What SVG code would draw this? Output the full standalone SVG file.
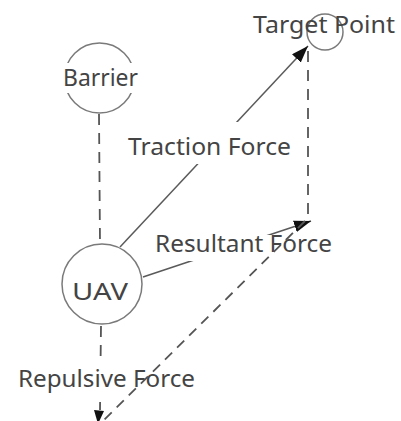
<svg xmlns="http://www.w3.org/2000/svg" width="401" height="421" viewBox="0 0 401 421">
  <style>
    .node { fill: none; stroke: #7a7a7a; stroke-width: 1.5; }
    .label { font-family: "Noto Sans", "Open Sans", "Liberation Sans", sans-serif; font-size: 24px; fill: #444444; }
    .bg { fill: #ffffff; }
    .solid { stroke: #5a5a5a; stroke-width: 1.5; fill: none; }
    .dash { stroke: #555555; stroke-width: 1.8; fill: none; stroke-dasharray: 11 8; }
    .dash2 { stroke: #555555; stroke-width: 1.8; fill: none; stroke-dasharray: 10 7; }
  </style>
  <defs>
    <marker id="arrow" markerUnits="userSpaceOnUse" markerWidth="18" markerHeight="12" refX="17" refY="6" orient="auto">
      <path d="M0,0 L17,6 L0,12 z" fill="#111"/>
    </marker>
  </defs>
  <rect width="401" height="421" fill="#ffffff"/>

  <!-- connectors under the labels -->
  <g id="connectors">
    <line class="solid" x1="120" y1="247" x2="308" y2="46" marker-end="url(#arrow)"/>
    <line class="solid" x1="143" y1="277" x2="311" y2="221" marker-end="url(#arrow)"/>
    <line class="dash" x1="308" y1="51" x2="308" y2="218"/>
    <line class="dash" x1="99" y1="114" x2="100" y2="244"/>
    <line class="dash" x1="101" y1="326" x2="100" y2="410"/>
    <polygon points="94,410 104,411 98,424" fill="#111"/>
  </g>

  <g id="target">
    <circle class="node" cx="325" cy="32" r="18"/>
    <text class="label" x="253" y="33" textLength="142" lengthAdjust="spacingAndGlyphs">Target Point</text>
  </g>

  <g id="barrier">
    <circle class="node" cx="99.5" cy="78" r="35"/>
    <rect class="bg" x="60" y="63" width="81" height="30"/>
    <text class="label" x="63" y="86" textLength="75" lengthAdjust="spacingAndGlyphs">Barrier</text>
  </g>

  <g id="uav">
    <circle class="node" cx="102" cy="284" r="40"/>
    <text class="label" x="72" y="300" font-size="31" textLength="56" lengthAdjust="spacingAndGlyphs">UAV</text>
  </g>

  <g id="traction-label">
    <rect class="bg" x="126" y="122" width="170" height="42"/>
    <text class="label" x="128" y="155" textLength="163" lengthAdjust="spacingAndGlyphs">Traction Force</text>
  </g>

  <g id="resultant-label">
    <rect class="bg" x="155" y="235" width="179" height="26"/>
    <text class="label" x="155" y="252" textLength="177" lengthAdjust="spacingAndGlyphs">Resultant Force</text>
  </g>

  <g id="repulsive-label">
    <rect class="bg" x="16" y="360" width="182" height="36"/>
    <text class="label" x="18" y="387" textLength="177" lengthAdjust="spacingAndGlyphs">Repulsive Force</text>
  </g>

  <!-- closing side of the force parallelogram, drawn over the labels -->
  <g id="connectors-top">
    <line class="dash2" x1="305" y1="221" x2="104" y2="420"/>
  </g>
</svg>
